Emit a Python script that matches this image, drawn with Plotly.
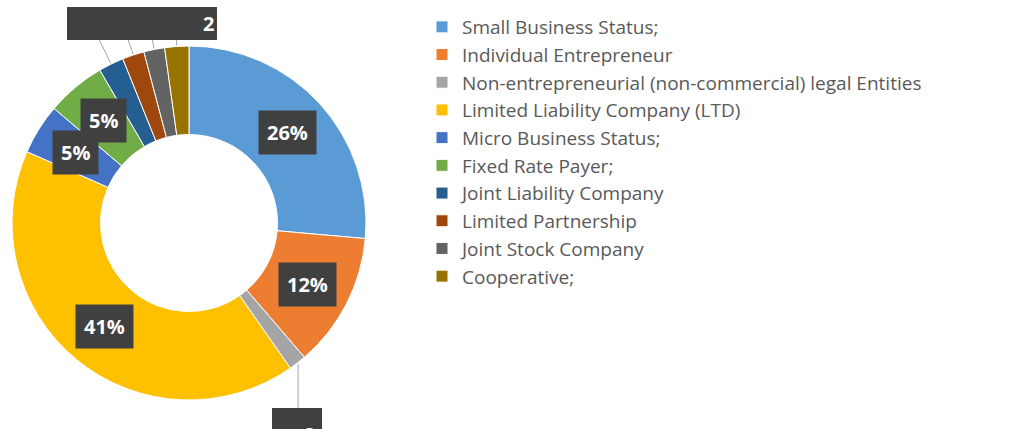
import math
import plotly.graph_objects as go

# Share of registered entities by legal form (%)
labels = [
    "Small Business Status;",
    "Individual Entrepreneur",
    "Non-entrepreneurial (non-commercial) legal Entities",
    "Limited Liability Company (LTD)",
    "Micro Business Status;",
    "Fixed Rate Payer;",
    "Joint Liability Company",
    "Limited Partnership",
    "Joint Stock Company",
    "Cooperative;",
]
values = [26.4, 12.3, 1.6, 41.3, 4.6, 5.4, 2.3, 2.0, 1.9, 2.2]
colors = [
    "#5B9BD5", "#ED7D31", "#A5A5A5", "#FFC000", "#4472C4",
    "#70AD47", "#255E91", "#9E480E", "#636363", "#997300",
]

W, H = 1018, 429
CX, CY, R = 189, 223, 177      # donut centre / outer radius in pixels (y from top)
HOLE = 0.5
BOX = "#404040"
BADGE_FONT = dict(family="Open Sans", size=20, color="white", weight="bold")


def paper(x, y):
    return x / W, 1 - y / H


total = sum(values)
mids = []
acc = 0.0
for v in values:
    mids.append((acc + v / 2) / total * 360.0)
    acc += v

fig = go.Figure(
    go.Pie(
        labels=labels,
        values=values,
        hole=HOLE,
        sort=False,
        direction="clockwise",
        rotation=0,
        marker=dict(colors=colors, line=dict(color="white", width=1)),
        textinfo="none",
        domain=dict(
            x=[(CX - R) / W, (CX + R) / W],
            y=[1 - (CY + R) / H, 1 - (CY - R) / H],
        ),
    )
)

annotations = []
shapes = []

# percentage badges on the larger slices, centred on the ring
r_mid = R * (1 + HOLE) / 2 + 1
for v, ang in zip(values, mids):
    if v / total * 100 < 4:
        continue
    t = math.radians(ang)
    x, y = paper(CX + r_mid * math.sin(t), CY - r_mid * math.cos(t))
    annotations.append(dict(
        x=x, y=y, xref="paper", yref="paper", showarrow=False,
        xanchor="center", yanchor="middle",
        text=f"{round(v / total * 100)}%",
        font=BADGE_FONT, bgcolor=BOX, borderpad=8,
    ))

# callouts for the thin slices at the top of the ring
top_idx = [6, 7, 8, 9]
TOP_Y = 40
for i in top_idx:
    t = math.radians(mids[i])
    ex, ey = CX + (R + 1) * math.sin(t), CY - (R + 1) * math.cos(t)
    s = (CY - TOP_Y) / math.cos(t)
    sx = CX + s * math.sin(t)
    x0, y0 = paper(sx, TOP_Y)
    x1, y1 = paper(ex, ey)
    shapes.append(dict(type="line", xref="paper", yref="paper",
                       x0=x0, y0=y0, x1=x1, y1=y1,
                       line=dict(color="#A6A6A6", width=1)))

bx0, by0 = paper(67, 7)
bx1, by1 = paper(217, TOP_Y)
shapes.append(dict(type="rect", xref="paper", yref="paper",
                   x0=bx0, y0=by1, x1=bx1, y1=by0,
                   fillcolor=BOX, line=dict(width=0), layer="above"))
tx, ty = paper(216, 24)
annotations.append(dict(
    x=tx, y=ty, xref="paper", yref="paper", showarrow=False,
    xanchor="right", yanchor="middle",
    text=f"{round(values[9] / total * 100)}",
    font=BADGE_FONT,
))

# callout for the thin slice at the bottom of the ring
g = 2
t = math.radians(mids[g])
ex, ey = CX + (R + 1) * math.sin(t), CY - (R + 1) * math.cos(t)
x0, y0 = paper(ex, ey)
x1, y1 = paper(ex, 408)
shapes.append(dict(type="line", xref="paper", yref="paper",
                   x0=x0, y0=y0, x1=x1, y1=y1,
                   line=dict(color="#A6A6A6", width=1)))
bx0, by0 = paper(272, 408)
bx1, by1 = paper(322, 445)
shapes.append(dict(type="rect", xref="paper", yref="paper",
                   x0=bx0, y0=by1, x1=bx1, y1=by0,
                   fillcolor=BOX, line=dict(width=0), layer="above"))
tx, ty = paper(317, 419)
annotations.append(dict(
    x=tx, y=ty, xref="paper", yref="paper", showarrow=False,
    xanchor="right", yanchor="top",
    text=f"{round(values[g] / total * 100)}",
    font=BADGE_FONT,
))

lx, ly = paper(422, 8)
fig.update_layout(
    width=W, height=H,
    margin=dict(l=0, r=0, t=0, b=0),
    paper_bgcolor="white",
    plot_bgcolor="white",
    showlegend=True,
    legend=dict(
        x=lx, y=ly, xanchor="left", yanchor="top",
        font=dict(family="Open Sans", size=19, color="#595959"),
        bgcolor="rgba(0,0,0,0)",
        itemclick=False,
    ),
    annotations=annotations,
    shapes=shapes,
)

fig.write_html("out.html")
